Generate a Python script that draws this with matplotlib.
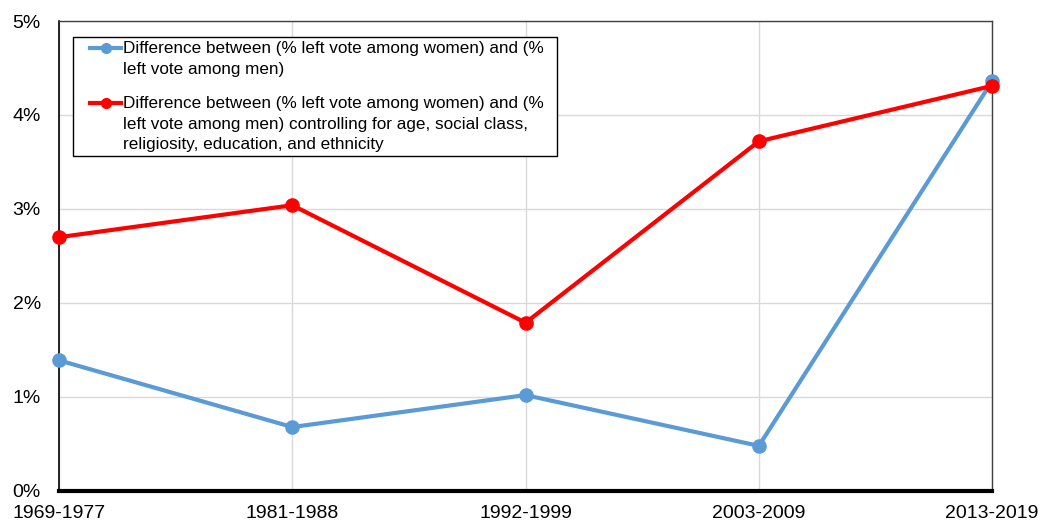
import matplotlib
matplotlib.use('Agg')
import matplotlib.pyplot as plt
from matplotlib.ticker import FuncFormatter
from matplotlib.patches import Rectangle
from matplotlib.lines import Line2D

periods = ['1969-1977', '1981-1988', '1992-1999', '2003-2009', '2013-2019']
raw_gap = [1.39, 0.68, 1.02, 0.48, 4.36]
controlled_gap = [2.70, 3.04, 1.79, 3.72, 4.31]

label_raw = 'Difference between (% left vote among women) and (%\nleft vote among men)'
label_ctrl = ('Difference between (% left vote among women) and (%\n'
              'left vote among men) controlling for age, social class,\n'
              'religiosity, education, and ethnicity')

plt.rcParams['font.family'] = ['Liberation Sans', 'DejaVu Sans']

W, H = 1040, 525
fig = plt.figure(figsize=(W / 100, H / 100), dpi=100)
ax = fig.add_axes([0.0567, 0.0648, 0.8973, 0.8952])

x = list(range(len(periods)))
blue, red = '#5b9bd5', '#ff0000'
ax.plot(x, raw_gap, color=blue, lw=3, marker='o', ms=9.5, zorder=3, clip_on=False)
ax.plot(x, controlled_gap, color=red, lw=3, marker='o', ms=9.5, zorder=4, clip_on=False)

ax.set_xlim(0, 4)
ax.set_ylim(0, 5)
ax.set_xticks(x)
ax.set_xticklabels(periods, fontsize=14)
ax.set_yticks([0, 1, 2, 3, 4, 5])
ax.yaxis.set_major_formatter(FuncFormatter(lambda v, p: '%d%%' % v))
ax.tick_params(axis='y', length=0, pad=13, labelsize=14)
ax.tick_params(axis='x', length=0, pad=10, labelsize=14)

ax.grid(True, color='#d9d9d9', lw=1)
ax.set_axisbelow(True)
for s in ['top', 'right']:
    ax.spines[s].set_color('#404040')
    ax.spines[s].set_linewidth(1)
ax.spines['left'].set_color('black')
ax.spines['left'].set_linewidth(1.2)
ax.spines['bottom'].set_color('black')
ax.spines['bottom'].set_linewidth(3)
ax.spines['bottom'].set_zorder(5)

# legend drawn by hand (handles sit on the first text line, like Excel)
box = Rectangle((73 / W, 1 - 156 / H), 484 / W, 119 / H,
                transform=fig.transFigure, facecolor='white',
                edgecolor='black', lw=1, zorder=8)
ax.add_artist(box)
for label, col, ypx in [(label_raw, blue, 48), (label_ctrl, red, 103)]:
    ax.add_artist(Line2D([90 / W, 121 / W], [1 - ypx / H] * 2, transform=fig.transFigure,
                         color=col, lw=3, zorder=9))
    ax.add_artist(Line2D([105.5 / W], [1 - ypx / H], transform=fig.transFigure,
                         color=col, marker='o', ms=7, zorder=9))
    fig.text(123 / W, 1 - (ypx - 7) / H, label, fontsize=12.3, va='top', ha='left',
             linespacing=1.46, zorder=10)

fig.savefig('out.png', dpi=100)
